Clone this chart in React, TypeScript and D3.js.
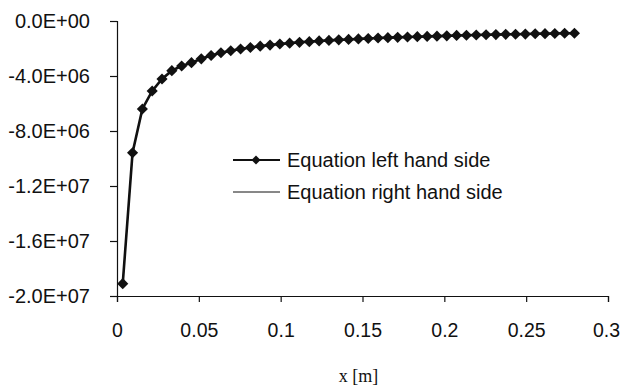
import { useRef, useEffect } from 'react';
import * as d3 from 'd3';

// x positions [m]
const xValues = [
  0.0035, 0.0095, 0.0155, 0.0215, 0.0275, 0.0335, 0.0395, 0.0455, 0.0515, 0.0575,
  0.0635, 0.0695, 0.0755, 0.0815, 0.0875, 0.0935, 0.0995, 0.1055, 0.1115, 0.1175,
  0.1235, 0.1295, 0.1355, 0.1415, 0.1475, 0.1535, 0.1595, 0.1655, 0.1715, 0.1775,
  0.1835, 0.1895, 0.1955, 0.2015, 0.2075, 0.2135, 0.2195, 0.2255, 0.2315, 0.2375,
  0.2435, 0.2495, 0.2555, 0.2615, 0.2675, 0.2735, 0.2795,
];

// Equation left hand side
const lhsValues = [
  -1.91e7, -9.58e6, -6.40e6, -5.09e6, -4.22e6, -3.61e6, -3.27e6, -3.03e6, -2.75e6, -2.51e6,
  -2.31e6, -2.16e6, -2.04e6, -1.93e6, -1.83e6, -1.75e6, -1.67e6, -1.61e6, -1.55e6, -1.50e6,
  -1.45e6, -1.41e6, -1.37e6, -1.34e6, -1.30e6, -1.27e6, -1.24e6, -1.21e6, -1.19e6, -1.16e6,
  -1.14e6, -1.12e6, -1.10e6, -1.08e6, -1.05e6, -1.04e6, -1.02e6, -1.00e6, -0.99e6, -0.97e6,
  -0.96e6, -0.95e6, -0.93e6, -0.92e6, -0.91e6, -0.89e6, -0.89e6,
];

// Equation right hand side (coincides with the left hand side)
const rhsValues = [
  -1.91e7, -9.58e6, -6.40e6, -5.09e6, -4.22e6, -3.61e6, -3.27e6, -3.03e6, -2.75e6, -2.51e6,
  -2.31e6, -2.16e6, -2.04e6, -1.93e6, -1.83e6, -1.75e6, -1.67e6, -1.61e6, -1.55e6, -1.50e6,
  -1.45e6, -1.41e6, -1.37e6, -1.34e6, -1.30e6, -1.27e6, -1.24e6, -1.21e6, -1.19e6, -1.16e6,
  -1.14e6, -1.12e6, -1.10e6, -1.08e6, -1.05e6, -1.04e6, -1.02e6, -1.00e6, -0.99e6, -0.97e6,
  -0.96e6, -0.95e6, -0.93e6, -0.92e6, -0.91e6, -0.89e6, -0.89e6,
];

const xTicks = [0, 0.05, 0.1, 0.15, 0.2, 0.25, 0.3];
const yTicks = [0, -4e6, -8e6, -1.2e7, -1.6e7, -2e7];
const legendLabels = ['Equation left hand side', 'Equation right hand side'];
const xTitle = 'x [m]';

const FONT = '"Liberation Sans", Arial, sans-serif';
const INK = '#111';

// 0.0E+00 style, with a plain hyphen for minus
function sci(v: number) {
  const [mant, e] = v.toExponential(1).split('e');
  const ex = parseInt(e, 10);
  const sign = ex < 0 ? '-' : '+';
  return `${mant}E${sign}${String(Math.abs(ex)).padStart(2, '0')}`;
}

export default function App() {
  const ref = useRef<SVGSVGElement>(null);

  useEffect(() => {
    const svg = d3.select(ref.current);
    svg.selectAll('*').remove();

    const W = 620, H = 386;
    const m = { top: 21, left: 117 };
    const iw = 608 - m.left;
    const ih = 296 - m.top;

    const x = d3.scaleLinear().domain([0, 0.3]).range([0, iw]);
    const y = d3.scaleLinear().domain([-2e7, 0]).range([ih, 0]);

    svg.append('rect').attr('width', W).attr('height', H).attr('fill', '#fff');
    const g = svg.append('g').attr('transform', `translate(${m.left},${m.top})`);

    // Axes
    g.append('g')
      .call(d3.axisLeft(y).tickValues(yTicks).tickSize(7).tickPadding(20).tickFormat(d => sci(+d)))
      .call(s => s.selectAll('text').attr('fill', INK).style('font-family', FONT).style('font-size', '20px'))
      .call(s => s.selectAll('line,path').attr('stroke', INK).attr('stroke-width', 1.2));

    g.append('g').attr('transform', `translate(0,${ih})`)
      .call(d3.axisBottom(x).tickValues(xTicks).tickSize(6).tickPadding(21).tickFormat(d => String(+d)))
      .call(s => s.selectAll('text').attr('fill', INK).style('font-family', FONT).style('font-size', '19.5px'))
      .call(s => s.selectAll('text').filter((d: any) => +d === 0.3).attr('dx', '-2'))
      .call(s => s.selectAll('line,path').attr('stroke', INK).attr('stroke-width', 1.2));

    svg.append('text')
      .attr('x', m.left + iw / 2 - 4).attr('y', 382)
      .attr('text-anchor', 'middle')
      .attr('fill', INK)
      .style('font-family', '"Liberation Serif", "Times New Roman", serif')
      .style('font-size', '18px')
      .text(xTitle);

    // Lines
    const lhs = xValues.map((xv, i) => ({ x: xv, v: lhsValues[i] }));
    const rhs = xValues.map((xv, i) => ({ x: xv, v: rhsValues[i] }));
    const line = d3.line<{ x: number; v: number }>().x(d => x(d.x)).y(d => y(d.v));

    g.append('path').datum(lhs).attr('fill', 'none')
      .attr('stroke', INK).attr('stroke-width', 2.6).attr('d', line);

    const diamond = d3.symbol().type(d3.symbolSquare).size(62);
    g.selectAll('path.dot').data(lhs).enter().append('path')
      .attr('class', 'dot')
      .attr('d', diamond)
      .attr('transform', d => `translate(${x(d.x)},${y(d.v)}) rotate(45)`)
      .attr('fill', INK);

    g.append('path').datum(rhs).attr('fill', 'none')
      .attr('stroke', INK).attr('stroke-width', 1).attr('d', line);

    // Legend
    const lg = svg.append('g');
    const rows = [160, 192];
    lg.append('line').attr('x1', 233).attr('x2', 280).attr('y1', rows[0]).attr('y2', rows[0])
      .attr('stroke', INK).attr('stroke-width', 2);
    lg.append('path').attr('d', d3.symbol().type(d3.symbolSquare).size(40))
      .attr('transform', `translate(256,${rows[0]}) rotate(45)`).attr('fill', INK);
    lg.append('line').attr('x1', 233).attr('x2', 280).attr('y1', rows[1]).attr('y2', rows[1])
      .attr('stroke', INK).attr('stroke-width', 1);
    legendLabels.forEach((t, i) => {
      lg.append('text')
        .attr('x', 287).attr('y', rows[i]).attr('dy', '0.35em')
        .attr('fill', INK)
        .style('font-family', FONT).style('font-size', '20px')
        .text(t);
    });
  }, []);

  return (
    <svg
      ref={ref}
      width={620}
      height={386}
      style={{ position: 'absolute', left: 0, top: 0, display: 'block' }}
    />
  );
}
